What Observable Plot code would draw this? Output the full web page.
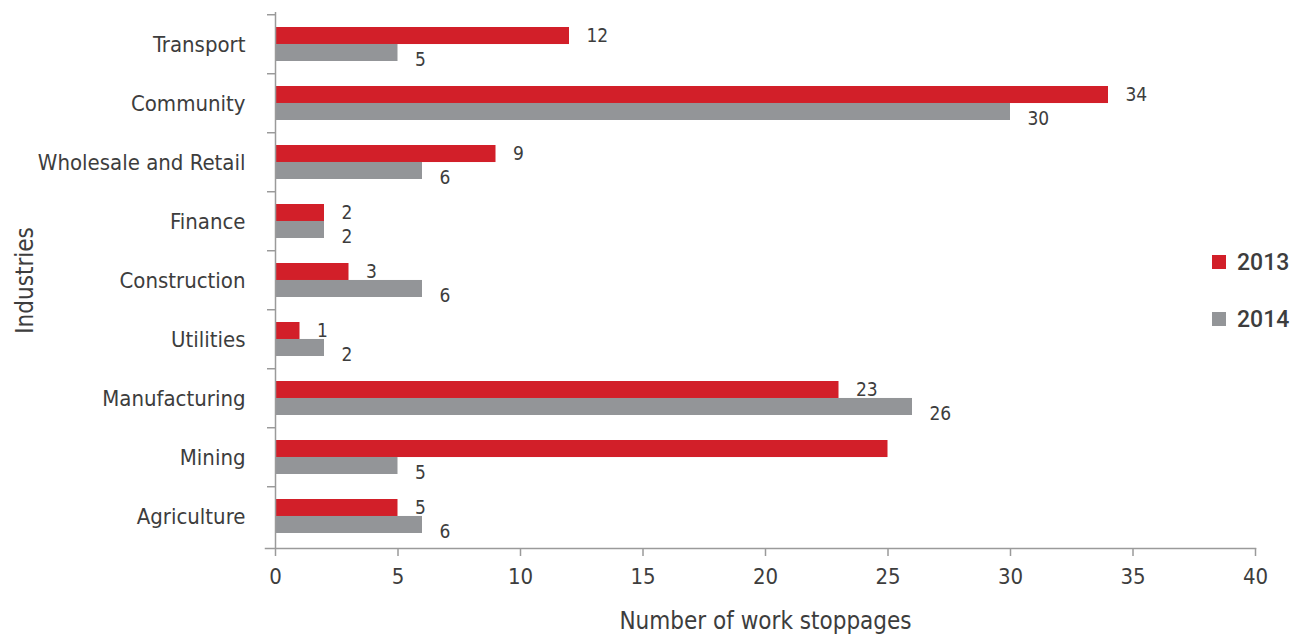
<!DOCTYPE html>
<html>
<head>
<meta charset="utf-8">
<script src="https://cdn.jsdelivr.net/npm/d3@7"></script>
<script src="https://cdn.jsdelivr.net/npm/@observablehq/plot@0.6"></script>
<style>
  html, body { margin: 0; padding: 0; background: #fff; }
  #wrap { position: relative; width: 1312px; height: 643px; }
  #legend { position: absolute; left: 1212px; top: 246px; font-family: Roboto, sans-serif; font-weight: 500; font-size: 23px; color: #3d3d3d; }
  #legend .item { display: flex; align-items: center; height: 32px; margin-bottom: 25px; }
  #legend .sw { width: 14px; height: 14px; margin-right: 11px; }
</style>
</head>
<body>
<div id="wrap"><div id="chart"></div><div id="legend"></div></div>
<script>
const industries = ["Transport", "Community", "Wholesale and Retail", "Finance", "Construction", "Utilities", "Manufacturing", "Mining", "Agriculture"];
const years = ["2013", "2014"];
const values2013 = [12, 34, 9, 2, 3, 1, 23, 25, 5];
const values2014 = [5, 30, 6, 2, 6, 2, 26, 5, 6];
const labels2013 = ["12", "34", "9", "2", "3", "1", "23", "", "5"];
const labels2014 = ["5", "30", "6", "2", "6", "2", "26", "5", "6"];
const colors = ["#d21f29", "#939598"];
const xTicks = [0, 5, 10, 15, 20, 25, 30, 35, 40];
const xLabel = "Number of work stoppages";
const yLabel = "Industries";

const rows2013 = industries.map((industry, i) => ({industry, year: years[0], value: values2013[i], label: labels2013[i]}));
const rows2014 = industries.map((industry, i) => ({industry, year: years[1], value: values2014[i], label: labels2014[i]}));

const W = 1312, H = 643, mL = 275, mR = 57, mT = 12, mB = 95;
const padIn = 0.43, padOut = 0.215;
const step = (H - mT - mB) / (industries.length - padIn + 2 * padOut);
const bw = step * (1 - padIn);
const half = bw / 2;

const font = "'Liberation Sans Narrow', 'DejaVu Sans Condensed', sans-serif";
const axisColor = "#9a9a9a";
const textColor = "#3d3d3d";

const chart = Plot.plot({
  width: W,
  height: H,
  marginLeft: mL,
  marginRight: mR,
  marginTop: mT,
  marginBottom: mB,
  style: {fontFamily: font, color: textColor, background: "#fff"},
  x: {domain: [0, 40], ticks: xTicks},
  y: {domain: industries, paddingInner: padIn, paddingOuter: padOut},
  color: {domain: years, range: colors},
  marks: [
    Plot.barX(rows2013, {x: "value", y: "industry", fill: "year", insetBottom: half}),
    Plot.barX(rows2014, {x: "value", y: "industry", fill: "year", insetTop: half}),
    Plot.text(rows2013, {x: "value", y: "industry", text: "label", dy: -half / 2, dx: 17, textAnchor: "start", fontSize: 19, fill: textColor}),
    Plot.text(rows2014, {x: "value", y: "industry", text: "label", dy: half / 2 + 7, dx: 17, textAnchor: "start", fontSize: 19, fill: textColor}),
    Plot.ruleX([0], {stroke: axisColor, strokeWidth: 1.5}),
    Plot.frame({anchor: "bottom", stroke: axisColor, strokeWidth: 1.5, insetLeft: -10}),
    Plot.axisY({tickSize: 0, tickPadding: 30, fontSize: 22, label: null, fill: textColor}),
    Plot.axisY({tickSize: 8, tickFormat: () => "", dy: -step / 2, stroke: axisColor, strokeWidth: 1.5, label: null}),
    Plot.axisX({ticks: xTicks, tickSize: 8, tickPadding: 12, fontSize: 22, label: null, stroke: axisColor, strokeWidth: 1.5, fill: textColor}),
    Plot.text([xLabel], {text: d => d, frameAnchor: "bottom", dy: 80, fontSize: 24, fill: textColor}),
    Plot.text([yLabel], {text: d => d, frameAnchor: "left", textAnchor: "middle", rotate: -90, dx: -250, fontSize: 24, fill: textColor})
  ]
});
document.getElementById("chart").appendChild(chart);

const legend = document.getElementById("legend");
years.forEach((y, i) => {
  const item = document.createElement("div");
  item.className = "item";
  const sw = document.createElement("span");
  sw.className = "sw";
  sw.style.background = colors[i];
  const t = document.createElement("span");
  t.textContent = y;
  item.appendChild(sw);
  item.appendChild(t);
  legend.appendChild(item);
});
</script>
</body>
</html>
